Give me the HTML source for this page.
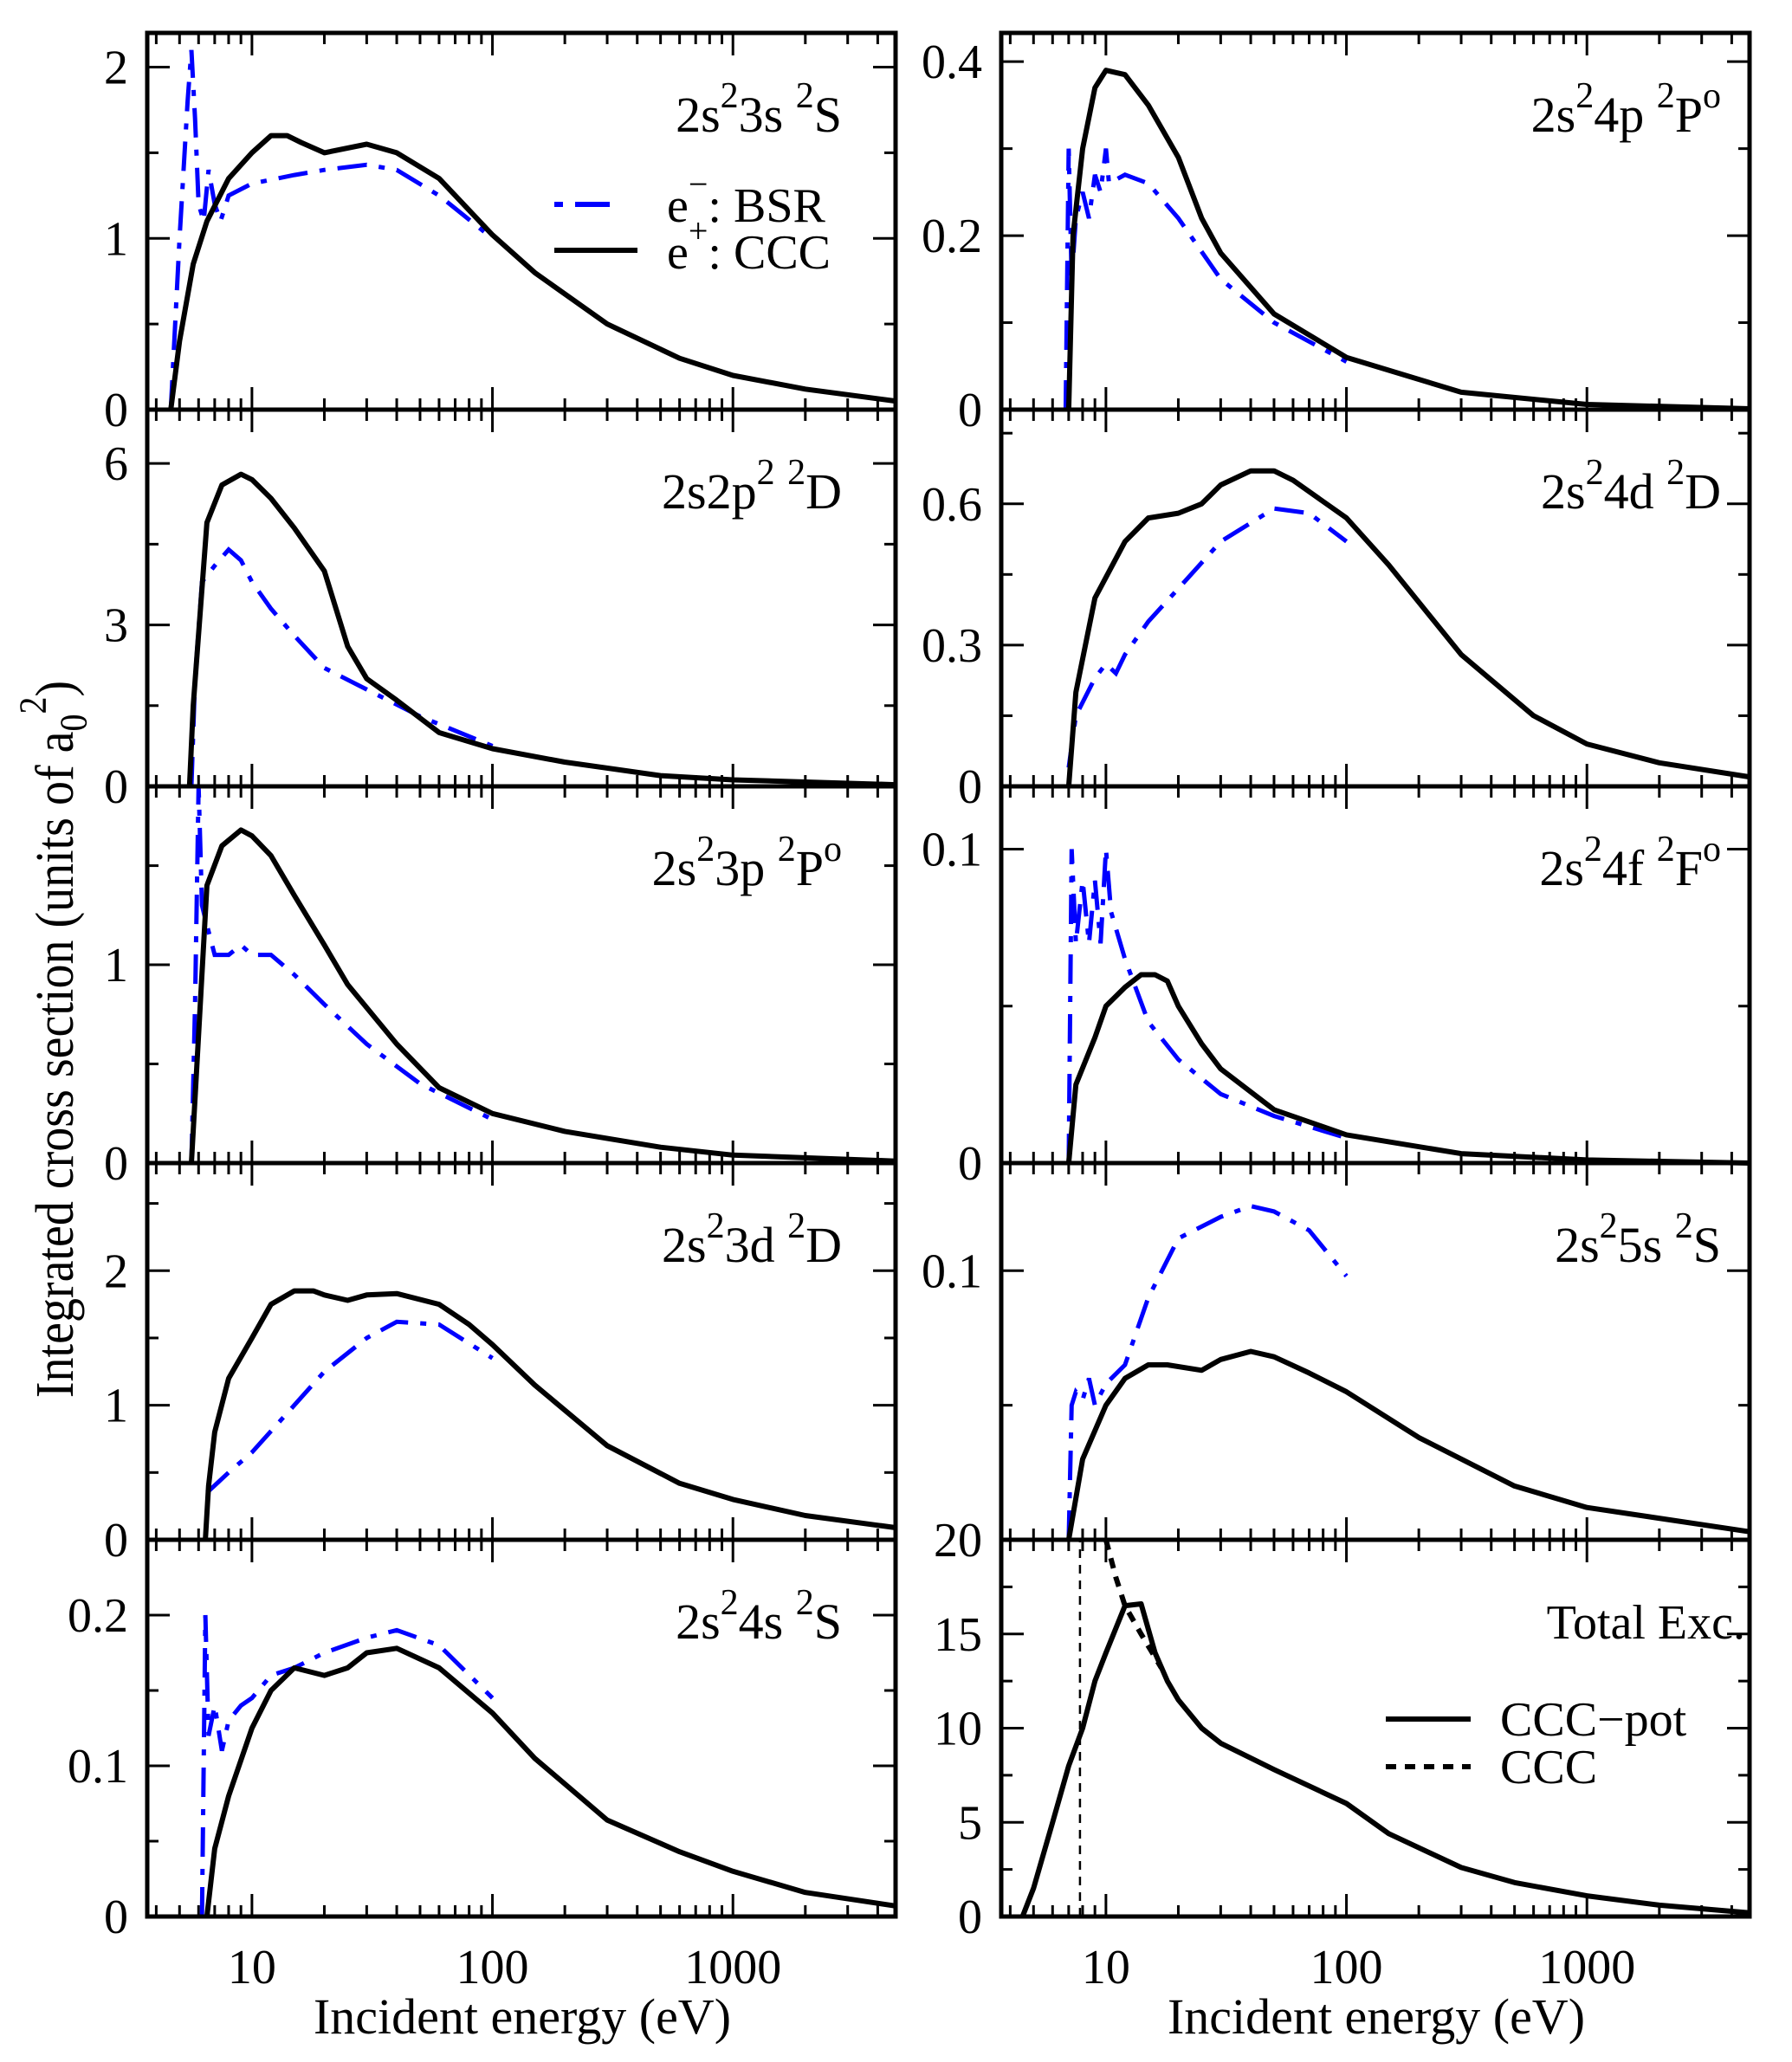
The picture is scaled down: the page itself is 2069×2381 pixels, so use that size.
<!DOCTYPE html>
<html><head><meta charset="utf-8"><style>
html,body{margin:0;padding:0;background:#fff}
svg{display:block}
text{font-family:"Liberation Serif",serif;fill:#000}
</style></head><body>
<svg id="s" width="2069" height="2381" xmlns="http://www.w3.org/2000/svg"></svg>
<script>
const S=document.getElementById('s');let h='';
const L=Math.log10;
const X0=[170,1156],W=864,Y0=38,RH=435,XMIN=L(3.67),XMAX=L(4745);
function px(c,E){return X0[c]+(L(E)-XMIN)/(XMAX-XMIN)*W}
const panels=[
 [0,0,2.2,[[0,'0'],[1,'1'],[2,'2']],0.5,['2s','2','3s ','2','S',''],
  [[4.6,0],[5,0.4],[5.7,0.85],[6.5,1.1],[8,1.35],[10,1.5],[12,1.6],[14,1.6],[16,1.56],[20,1.5],[30,1.55],[40,1.5],[60,1.35],[100,1.02],[150,0.8],[300,0.5],[600,0.3],[1000,0.2],[2000,0.12],[4745,0.05]],
  [[4.6,0],[5,1],[5.4,1.8],[5.6,2.1],[5.8,1.7],[6,1.2],[6.3,1.1],[6.6,1.4],[7,1.2],[7.4,1.1],[8,1.25],[10,1.32],[15,1.37],[20,1.4],[30,1.43],[40,1.4],[60,1.25],[100,1.0]]],
 [0,1,7,[[0,'0'],[3,'3'],[6,'6']],1.5,['2s2p','2',' ','2','D',''],
  [[5.5,0],[5.7,1.5],[6.5,4.9],[7.5,5.6],[9,5.8],[10,5.7],[12,5.35],[15,4.8],[20,4.0],[25,2.6],[30,2.0],[40,1.6],[60,1.0],[100,0.7],[200,0.45],[500,0.2],[1000,0.12],[4745,0.03]],
  [[5.6,0],[5.8,2],[6.2,3.8],[7,4.1],[8,4.4],[9,4.2],[10,3.8],[12,3.3],[15,2.8],[20,2.2],[30,1.8],[50,1.3],[100,0.75]]],
 [0,2,1.9,[[0,'0'],[1,'1']],0.5,['2s','2','3p ','2','P','o'],
  [[5.6,0],[6.5,1.4],[7.5,1.6],[9,1.68],[10,1.65],[12,1.55],[15,1.35],[20,1.1],[25,0.9],[40,0.6],[60,0.38],[100,0.25],[200,0.16],[500,0.08],[1000,0.04],[4745,0.01]],
  [[5.6,0],[5.8,0.8],[6,1.9],[6.2,1.3],[6.5,1.2],[7,1.05],[8,1.05],[9,1.1],[10,1.05],[12,1.05],[15,0.95],[20,0.8],[30,0.6],[50,0.4],[100,0.22]]],
 [0,3,2.8,[[0,'0'],[1,'1'],[2,'2']],0.5,['2s','2','3d ','2','D',''],
  [[6.4,0],[6.6,0.4],[7,0.8],[8,1.2],[10,1.5],[12,1.75],[15,1.85],[18,1.85],[20,1.82],[25,1.78],[30,1.82],[40,1.83],[60,1.75],[80,1.6],[100,1.45],[150,1.15],[300,0.7],[600,0.42],[1000,0.3],[2000,0.18],[4745,0.09]],
  [[6.5,0.35],[8,0.5],[10,0.65],[15,1.0],[20,1.25],[30,1.5],[40,1.62],[60,1.6],[100,1.35]]],
 [0,4,0.25,[[0,'0'],[0.1,'0.1'],[0.2,'0.2']],0.05,['2s','2','4s ','2','S',''],
  [[6.5,0],[7,0.045],[8,0.08],[10,0.125],[12,0.15],[15,0.165],[20,0.16],[25,0.165],[30,0.175],[40,0.178],[60,0.165],[100,0.135],[150,0.105],[200,0.088],[300,0.064],[600,0.043],[1000,0.03],[2000,0.016],[4745,0.007]],
  [[6.2,0],[6.4,0.2],[6.6,0.12],[7,0.14],[7.5,0.11],[8,0.13],[9,0.14],[10,0.145],[12,0.16],[15,0.165],[20,0.175],[30,0.185],[40,0.19],[60,0.18],[100,0.145]]],
 [1,0,0.433,[[0,'0'],[0.2,'0.2'],[0.4,'0.4']],0.1,['2s','2','4p ','2','P','o'],
  [[7,0],[7.3,0.2],[8,0.3],[9,0.37],[10,0.39],[12,0.385],[15,0.35],[20,0.29],[25,0.22],[30,0.18],[50,0.11],[100,0.06],[300,0.02],[1000,0.006],[4745,0.001]],
  [[6.8,0],[7,0.3],[7.2,0.15],[7.5,0.22],[8,0.25],[8.5,0.22],[9,0.27],[9.5,0.25],[10,0.3],[10.3,0.26],[12,0.27],[15,0.26],[20,0.22],[30,0.15],[50,0.1],[100,0.055]]],
 [1,1,0.8,[[0,'0'],[0.3,'0.3'],[0.6,'0.6']],0.15,['2s','2','4d ','2','D',''],
  [[7,0],[7.5,0.2],[9,0.4],[12,0.52],[15,0.57],[20,0.58],[25,0.6],[30,0.64],[40,0.67],[50,0.67],[60,0.65],[100,0.57],[150,0.47],[300,0.28],[600,0.15],[1000,0.09],[2000,0.05],[4745,0.02]],
  [[7,0.04],[7.5,0.15],[9,0.23],[10,0.26],[11,0.24],[12,0.28],[15,0.35],[20,0.42],[30,0.52],[50,0.59],[70,0.58],[100,0.52]]],
 [1,2,0.12,[[0,'0'],[0.1,'0.1']],0.05,['2s','2','4f ','2','F','o'],
  [[7,0],[7.5,0.025],[9,0.04],[10,0.05],[12,0.056],[14,0.06],[16,0.06],[18,0.058],[20,0.05],[25,0.038],[30,0.03],[50,0.017],[100,0.009],[300,0.003],[1000,0.001],[4745,0]],
  [[7,0],[7.2,0.1],[7.5,0.07],[8,0.09],[8.5,0.07],[9,0.09],[9.5,0.07],[10,0.1],[10.5,0.08],[12,0.065],[15,0.045],[20,0.033],[30,0.022],[50,0.015],[100,0.008]]],
 [1,3,0.14,[[0.1,'0.1']],0.05,['2s','2','5s ','2','S',''],
  [[7,0],[8,0.03],[10,0.05],[12,0.06],[15,0.065],[18,0.065],[25,0.063],[30,0.067],[40,0.07],[50,0.068],[70,0.062],[100,0.055],[200,0.038],[500,0.02],[1000,0.012],[4745,0.003]],
  [[7,0],[7.2,0.05],[7.5,0.055],[8,0.052],[8.5,0.06],[9,0.05],[10,0.058],[12,0.065],[15,0.09],[20,0.112],[30,0.12],[40,0.124],[50,0.122],[70,0.115],[100,0.098]]],
 [1,4,20,[[0,'0'],[5,'5'],[10,'10'],[15,'15'],[20,'20']],2.5,['Total Exc.','','','','',''],
  [[4.5,0],[5,1.5],[6,5],[7,8],[8,10],[9,12.5],[10,14],[12,16.5],[14,16.6],[16,14],[18,12.5],[20,11.5],[25,10],[30,9.2],[50,7.8],[100,6],[150,4.4],[300,2.6],[500,1.8],[1000,1.1],[2000,0.6],[4745,0.2]],
  null]
];
panels.forEach(p=>{
 const [c,r,ym,labs,minor,lab,ccc,bsr]=p;
 const x0=X0[c],x1=x0+W,yt=Y0+r*RH,yb=yt+RH;
 const py=v=>yb-v/ym*RH;
 for(let d=0;d<=4;d++)for(let m=1;m<10;m++){const E=m*Math.pow(10,d);if(L(E)<XMIN||L(E)>XMAX)continue;
  const x=px(c,E),len=m==1?26:13;
  h+=`<line x1="${x}" y1="${yb}" x2="${x}" y2="${yb-len}" stroke="#000" stroke-width="3"/>`;
  h+=`<line x1="${x}" y1="${yt}" x2="${x}" y2="${yt+len}" stroke="#000" stroke-width="3"/>`;}
 for(let v=0;v<=ym+1e-9;v+=minor){const y=py(v);const maj=labs.some(l=>Math.abs(l[0]-v)<1e-6);const len=maj?26:13;
  h+=`<line x1="${x0}" y1="${y}" x2="${x0+len}" y2="${y}" stroke="#000" stroke-width="3"/><line x1="${x1}" y1="${y}" x2="${x1-len}" y2="${y}" stroke="#000" stroke-width="3"/>`;}
 labs.forEach(l=>{h+=`<text x="${x0-22}" y="${py(l[0])+19}" font-size="56" text-anchor="end">${l[1]}</text>`;});
 const path=d=>d.map((q,i)=>(i?'L':'M')+px(c,q[0]).toFixed(1)+','+py(q[1]).toFixed(1)).join('');
 if(bsr)h+=`<path d="${path(bsr)}" fill="none" stroke="#0000ff" stroke-width="5" stroke-dasharray="34,14,7,14"/>`;
 h+=`<path d="${path(ccc)}" fill="none" stroke="#000" stroke-width="6" stroke-linejoin="round"/>`;
 h+=`<rect x="${x0}" y="${yt}" width="${W}" height="${RH}" fill="none" stroke="#000" stroke-width="5"/>`;
 const tx=c==0?972:1987;
 if(lab[1]) h+=`<text x="${tx}" y="${yt+114}" font-size="58" text-anchor="end">${lab[0]}<tspan font-size="42" dy="-28">${lab[1]}</tspan><tspan dy="28">${lab[2]}</tspan><tspan font-size="42" dy="-28">${lab[3]}</tspan><tspan dy="28">${lab[4]}</tspan>${lab[5]?`<tspan font-size="42" dy="-28">${lab[5]}</tspan>`:''}</text>`;
 else h+=`<text x="${tx+28}" y="${yt+114}" font-size="56" text-anchor="end">${lab[0]}</text>`;
});
{const yb=Y0+5*RH,py=v=>yb-v/20*RH;
 const x=px(1,7.8);h+=`<line x1="${x}" y1="${yb}" x2="${x}" y2="${py(20)}" stroke="#000" stroke-width="2.5" stroke-dasharray="10,8"/>`;
 const d=[[10,20],[11,18],[12,16.5],[14,15],[17,13.2]].map((q,i)=>(i?'L':'M')+px(1,q[0])+','+py(q[1])).join('');
 h+=`<path d="${d}" fill="none" stroke="#000" stroke-width="6" stroke-dasharray="12,10"/>`;
 h+=`<line x1="1600" y1="1985" x2="1698" y2="1985" stroke="#000" stroke-width="6"/><text x="1732" y="2004" font-size="56">CCC−pot</text>`;
 h+=`<line x1="1600" y1="2040" x2="1698" y2="2040" stroke="#000" stroke-width="6" stroke-dasharray="12,10"/><text x="1732" y="2059" font-size="56">CCC</text>`;}
h+=`<line x1="640" y1="236" x2="736" y2="236" stroke="#0000ff" stroke-width="6" stroke-dasharray="10,14,40,100"/>`;
h+=`<text x="770" y="256" font-size="56">e<tspan font-size="40" dy="-30">−</tspan><tspan dy="30">: BSR</tspan></text>`;
h+=`<line x1="640" y1="289" x2="736" y2="289" stroke="#000" stroke-width="6"/>`;
h+=`<text x="770" y="310" font-size="56">e<tspan font-size="40" dy="-30">+</tspan><tspan dy="30">: CCC</tspan></text>`;
[0,1].forEach(c=>{[10,100,1000].forEach(E=>{h+=`<text x="${px(c,E)}" y="2290" font-size="56" text-anchor="middle">${E}</text>`;});
 h+=`<text x="${X0[c]+433}" y="2348" font-size="58" text-anchor="middle">Incident energy (eV)</text>`;});
h+=`<text transform="translate(84,1200) rotate(-90) scale(1,1.12)" font-size="56" text-anchor="middle">Integrated cross section (units of a<tspan font-size="40" dy="14">0</tspan><tspan font-size="40" dy="-42">2</tspan><tspan dy="28">)</tspan></text>`;
S.innerHTML=h;
</script>
</body></html>
